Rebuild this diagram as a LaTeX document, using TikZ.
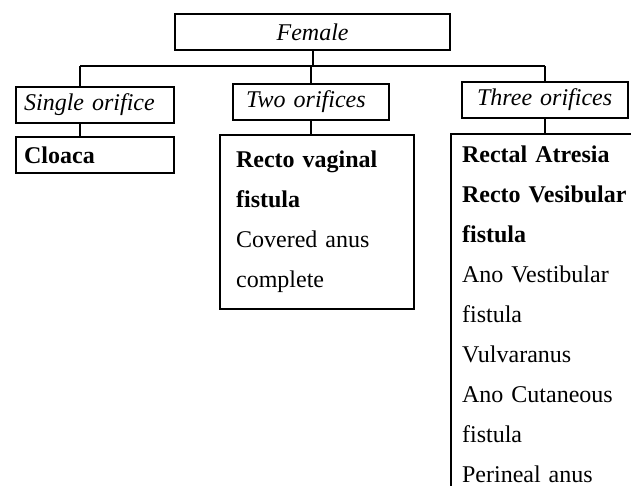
\documentclass[tikz,border=0pt]{standalone}
\usepackage{fontspec}
\setmainfont{Liberation Serif}
\usetikzlibrary{positioning}

\begin{document}
\begin{tikzpicture}[x=0.5pt,y=-0.5pt,
    box/.style={draw, line width=1.1pt, anchor=north west, align=left,
      font=\fontsize{12pt}{20pt}\selectfont, inner ysep=0pt, minimum height=18pt},
    head/.style={box, font=\fontsize{12pt}{20pt}\selectfont\itshape},
    wire/.style={line width=1.1pt}]
    % picture is measured in pixels of the 631x486 frame, y downwards
    \useasboundingbox (0,0) rectangle (631,486);
    \clip (0,0) rectangle (631,486);

    \node[head, align=center, minimum width=137.5pt] (female) at (174,13) {Female};

    \node[head, inner xsep=4pt, text width=71pt] (single) at (15,86) {Single orifice};
    \node[head, inner xsep=6.5pt, text width=65pt] (two) at (232,83) {Two orifices};
    \node[head, inner xsep=7.5pt, text width=68pt] (three) at (461,81) {Three orifices};

    \node[box, inner xsep=4pt, text width=71pt] (cloaca) at (15,136) {\textbf{Cloaca}};
    \node[box, inner xsep=8pt, text width=81pt, minimum height=87pt] (rvf) at (219,134)
      {\textbf{Recto vaginal}\\\textbf{fistula}\\Covered anus\\complete};
    \node[box, inner xsep=5.5pt, inner ysep=6pt, text width=100pt] (rest) at (450,133)
      {\textbf{Rectal Atresia}\\\textbf{Recto Vesibular}\\\textbf{fistula}\\Ano Vestibular\\fistula\\Vulvaranus\\Ano Cutaneous\\fistula\\Perineal anus};

    % tree connectors
    \coordinate (busL) at (80,66);
    \coordinate (busR) at (three.north |- busL);
    \draw[wire] (busL) -- (busR);
    \draw[wire] (female.south) -- (female.south |- busL);
    \draw[wire] (busL) -- (busL |- single.north);
    \draw[wire] (two.north) -- (two.north |- busL);
    \draw[wire] (three.north) -- (busR);
    \draw[wire] (busL |- single.south) -- (busL |- cloaca.north);
    \draw[wire] (two.south) -- (two.south |- rvf.north);
    \draw[wire] (three.south) -- (three.south |- rest.north);
\end{tikzpicture}
\end{document}
